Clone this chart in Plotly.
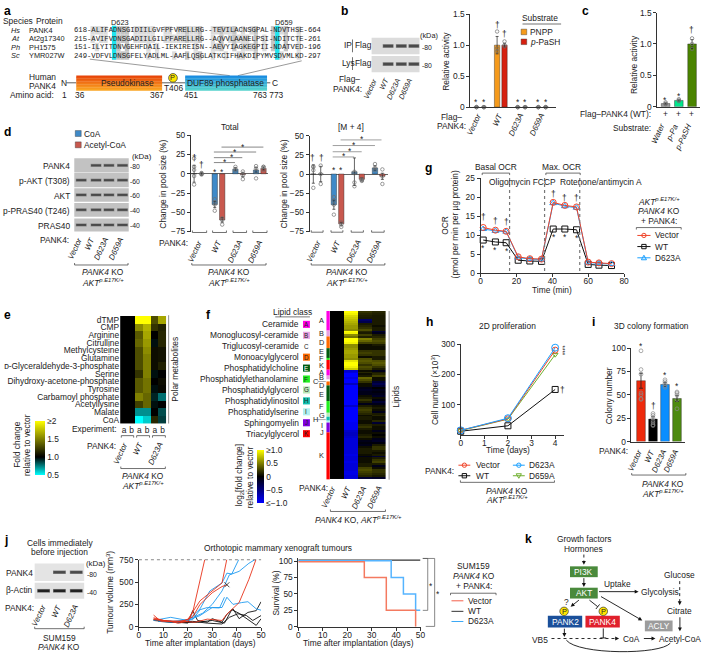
import math
import plotly.graph_objects as go

W, H = 706, 658
FONT = "Liberation Sans"
INK = "#222222"
TEXT_SCALE = 1.05

# ---- data ----
align_rows = [
    "618-ALIFADNSGIDIILGVFPFVRELLRG--TEVILACNSGPAL-NDVTHSE-664",
    "215-AVIFVDNSGADIILGILPFARELLRG--AQVVLAANELPSI-NDITCTE-261",
    "151-ILYITDNVGEHFDAIL-IEKIREISN--AEVYIAGKEGPII-NDATVED-196",
    "249-VDFVLDNSGFELYADLML-AAFLQSGLATKCIFHAKDIPYMVSDVMLKD-297",
]
species = ["Hs", "At", "Ph", "Sc"]
proteins = ["PANK4", "At2g17340", "PH1575", "YMR027W"]

b_groups = ["Vector", "WT", "D623A", "D659A"]
b_pnpp = [0, 1.0, 0, 0]
b_pash = [0, 1.0, 0, 0]
b_pnpp_err = [0, 0.14, 0, 0]
b_pash_err = [0, 0.03, 0, 0]
b_pnpp_dots = [[0, 0, 0], [0.9, 0.95, 1.22], [0, 0, 0], [0, 0, 0]]
b_pash_dots = [[0, 0, 0], [0.98, 1.0, 1.06], [0, 0, 0], [0, 0, 0]]

c_groups = ["Water", "p-Pa", "p-PaSH"]
c_values = [0.05, 0.1, 1.0]
c_err = [0.01, 0.01, 0.07]
c_dots = [[0.04, 0.05, 0.07], [0.09, 0.1, 0.12], [0.92, 1.0, 1.09]]

d_coa = [0, -40, 6, 5]
d_accoa = [0, -60, -1, 7]
d_coa_err = [11, 4, 2, 3]
d_accoa_err = [2, 3, 3, 2]
d_coa_dots = [[20, 9, 5, -3, -14], [-33, -37, -40, -48], [4, 6, 9], [-6, 3, 7, 10]]
d_accoa_dots = [[1, 0, -1], [-58, -60, -66], [3, -2, -7], [5, 9, 9]]

m4_coa = [0, -40, 3, 8]
m4_accoa = [0, -65, -7, -3]
m4_coa_err = [12, 6, 18, 3]
m4_accoa_err = [10, 2, 2, 4]
m4_coa_dots = [[10, 9, 5, -18], [-30, -35, -40, -53], [1, 3, -11, -16], [5, 8, 13]]
m4_accoa_dots = [[11, 0, -13], [-63, -66, -69], [-7, -8, -9], [-3, 6, -13]]

e_metabolites = ["dTMP", "CMP", "Arginine", "Citrulline", "Methylcysteine", "Glutamine",
                 "ᴅ-Glyceraldehyde-3-phosphate", "Serine", "Dihydroxy-acetone-phosphate",
                 "Tyrosine", "Carbamoyl phosphate", "Acetyllysine", "Malate", "CoA"]
e_experiments = ["a", "b", "a", "b", "a", "b"]
e_fold = [
    [1, 1, 2.0, 2.0, 1.3, 1.65],
    [1, 1, 1.55, 1.7, 1.2, 1.13],
    [1, 1, 1.35, 1.65, 1.0, 1.15],
    [1, 1, 1.4, 1.6, 0.97, 1.15],
    [1, 1, 1.3, 1.55, 1.05, 1.07],
    [1, 1, 1.3, 1.5, 1.05, 1.07],
    [1, 1, 1.3, 1.5, 1.05, 1.13],
    [1, 1, 1.2, 1.5, 0.97, 1.0],
    [1, 1, 1.35, 1.45, 1.0, 1.05],
    [1, 1, 1.35, 1.45, 0.97, 1.03],
    [1, 1, 1.5, 1.4, 0.93, 0.78],
    [1, 1, 1.25, 1.4, 0.97, 1.0],
    [1, 1, 0.72, 0.72, 1.0, 0.85],
    [1, 1, 0.5, 0.6, 1.15, 0.88],
]

f_vector = [0, 0, 0, 0, 0, 0, 0, 0, 0, 0, 0, 0, 0, 0, 0, 0, 0, 0, 0, 0, 0, 0, 0, 0, 0, 0, 0, 0, 0, 0,
            0, 0, 0, 0, 0, 0, 0, 0, 0, 0, 0, 0, 0, 0, 0, 0, 0, 0, 0, 0, 0, 0, 0, 0, 0, 0, 0, 0,
            0, 0, 0, 0, 0, 0, 0, 0, 0, 0, 0, 0, 0, 0, 0, 0, 0, 0, 0, 0, 0, 0, 0, 0, 0, 0, 0, 0]
f_wt = [1, .95, .85, .8, .75, .7, .65, .6, .6, .55,
        1, .95, .55, .45, 1, 1, .95, .55, .55, .6,
        .65, .65, .6, .6, .55, .9, 1, 1, .95, .8,
        -.8, -.85, -1, -1, -.9, -1, -1, -.75, -1, -1,
        -1, -1, -1, -1, -1, -1, -1, -1, -.8, -1,
        -1, -1, -1, -1, -1, -1, -1, -.95, -.95, -.95,
        -.95, -.8, -.75, -.75, -.8, -.85, -.85, -.85, -.85, -.85,
        -.85, -.85, -.85, -.9, -.85, -.85, -.85, -.9, -.85, -.85,
        -.85, -.85, -.9, -.9, -.85, -.85]
f_d623a = [.2, .15, .12, .1, -.4, -.3, .1, .15, .2, .3,
           .15, .1, .25, .12, .5, .4, .25, .05, .05, .05,
           .2, .25, .2, .05, .3, .35, .3, .2, .3, .25,
           .05, .15, .05, .1, .4, .3, .2, .05, .05, -.1,
           -.15, -.1, -.1, .05, .1, .2, .1, -.1, .1, .2,
           .25, .2, .15, .05, .1, .1, .05, .05, .15, .2,
           .1, .05, .05, .1, .15, .05, -.1, -.05, -.1, .05,
           .1, .1, .1, .05, -.1, .05, .05, .05, .1, .1,
           .25, .3, .25, .2, .15, -.2]
f_d659a = [.15, .12, .1, .1, .1, .1, .1, .05, .1, .1,
           -.2, -.1, .1, .15, .25, .3, .25, .1, .05, .05,
           .2, .2, .2, .1, .1, .3, .35, .3, .2, .1,
           -.1, .1, .15, .25, .05, .05, -.2, -.3, -.2, 0,
           -.1, -.05, -.1, -.15, .05, -.05, -.2, -.1, .05, .1,
           .05, -.1, .1, .15, .05, .05, .15, -.2, .1, .05,
           .05, -.1, .05, 0, .05, -.1, -.15, -.05, .1, .2,
           .2, .1, .05, .1, -.2, .1, .2, .25, .1, -.1,
           .05, .2, .2, .15, .1, -.15]
lipid_classes = ["Ceramide", "Monoglucosyl-ceramide", "Triglucosyl-ceramide", "Monoacylglycerol",
                 "Phosphatidylcholine", "Phosphatidylethanolamine", "Phosphatidylglycerol",
                 "Phosphatidylinositol", "Phosphatidylserine", "Sphingomyelin", "Triacylglycerol"]
lipid_letters = ["A", "B", "C", "D", "E", "F", "G", "H", "I", "J", "K"]
lipid_colors = ["#ff00e6", "#e8a0e0", "#ffffff", "#ff6a00", "#005a10", "#20f020",
                "#b8e8b8", "#10c0b0", "#b0f0f0", "#8000e0", "#ff0000"]
strip_letters = ["A", "B", "D", "E", "F", "K", "A", "B", "C", "D", "E", "F", "G", "H", "I", "J", "K"]
strip_rows = [10, 3, 6, 5, 1, 5, 3, 2, 1, 2, 8, 6, 2, 2, 1, 5, 24]

g_time = [1.5, 8.3, 14.3, 21, 27.5, 34, 40.5, 47, 53.5, 60, 66, 73]
g_vector = [12, 11.3, 11, 4.3, 3.8, 3.7, 18.6, 17.8, 17.4, 2.9, 2.7, 2.5]
g_wt = [8.7, 8.2, 8, 3.4, 3.2, 3.1, 11.6, 11.6, 11.4, 2.3, 2.1, 2]
g_d623a = [11.6, 11.1, 10.9, 4.1, 3.7, 3.6, 18.4, 17.6, 17.2, 2.8, 2.6, 2.4]

h_days = [0, 2, 4]
h_vector = [15, 53, 280]
h_wt = [12, 30, 150]
h_d623a = [15, 55, 288]
h_d659a = [14, 52, 265]

i_groups = ["Vector", "WT", "D623A", "D659A"]
i_values = [65, 24, 61, 46]
i_err = [8, 3, 2, 3]
i_dots = [[97, 77, 72, 52, 50, 46, 45], [30, 28, 25, 22, 20, 18, 17], [66, 64, 62, 60, 58], [53, 52, 50, 45, 35]]

tumour_red = [
    ([6, 9, 13, 16, 20, 22, 27], [130, 60, 60, 40, 60, 160, 760]),
    ([6, 10, 15, 20, 25, 30, 34, 36], [100, 70, 50, 80, 290, 400, 490, 760]),
    ([6, 12, 18, 22, 25, 30, 34, 36], [90, 60, 60, 110, 250, 380, 450, 470]),
    ([6, 12, 18, 23, 28, 34, 36, 41, 45, 48], [80, 65, 60, 50, 85, 70, 140, 270, 530, 760]),
]
tumour_blue = [
    ([6, 13, 20, 25, 29, 34, 36, 38, 41], [70, 105, 70, 200, 400, 490, 600, 590, 760]),
    ([8, 15, 20, 25, 30, 34, 36, 38.5, 42, 44.6, 48, 50], [60, 50, 70, 125, 215, 215, 330, 250, 270, 280, 200, 185]),
    ([8, 14, 20, 26, 30, 34, 37, 41, 45, 48], [75, 60, 80, 150, 250, 400, 580, 620, 710, 760]),
    ([10, 16, 22, 25, 28, 33, 35], [65, 55, 80, 190, 215, 210, 330]),
]
tumour_black = [
    ([6, 12, 20, 22, 24, 28, 30, 34, 36, 38.5, 41, 44.6, 48, 50], [80, 60, 40, 180, 70, 50, 90, 50, 140, 200, 90, 160, 180, 280]),
    ([6, 14, 22, 28, 34, 37, 40.5, 44, 46.6, 50], [70, 50, 60, 40, 30, 105, 145, 125, 70, 125]),
    ([8, 16, 24, 30, 35, 38, 41, 44, 48, 50], [60, 45, 50, 70, 40, 190, 150, 90, 15, 90]),
]
tumour_x_day = [36]
tumour_x_vol = [470]

surv_wt_x = [0, 50]
surv_wt_y = [101.5, 101.5]
surv_d623a_x = [0, 38, 43, 48, 50]
surv_d623a_y = [100.5, 75, 50, 25, 25]
surv_vector_x = [0, 27, 36, 48]
surv_vector_y = [99, 75, 25, 0]

PALE_BLUE = "#3f8ac8"
PALE_RED = "#c8584e"

# ---- helpers ----
fig = go.Figure()
shapes, notes = [], []


def px(x):
    return x / W


def py(y):
    return 1 - y / H


def T(x, y, s, size=8, anchor="left", angle=0, color=INK, family=FONT, yanchor="middle"):
    notes.append(dict(x=px(x), y=py(y), xref="paper", yref="paper", text=s, showarrow=False,
                      xanchor=anchor, yanchor=yanchor, textangle=angle, borderpad=0,
                      font=dict(size=round(size * TEXT_SCALE, 2), color=color, family=family)))


def R(x, y, s, size=8):
    T(x, y, s, size=size, anchor="right", angle=-65, yanchor="top")


def letter(x, y, s):
    T(x, y, "<b>%s</b>" % s, size=11.5, color="#000000")


def star(x, y):
    T(x, y + 1.5, "*", anchor="center")


def dagger(x, y):
    T(x, y, "†", anchor="center")


def L(x0, y0, x1, y1, color="#333333", w=0.8, dash=None):
    shapes.append(dict(type="line", xref="paper", yref="paper", x0=px(x0), y0=py(y0), x1=px(x1), y1=py(y1),
                       line=dict(color=color, width=w, dash=dash)))


def box(x0, y0, x1, y1, fill, line=None, w=0.6):
    shapes.append(dict(type="rect", xref="paper", yref="paper", x0=px(x0), y0=py(y0), x1=px(x1), y1=py(y1),
                       fillcolor=fill, line=dict(color=line or fill, width=w if line else 0)))


def circ(x, y, r, fill, line="#333333", w=0.7):
    shapes.append(dict(type="circle", xref="paper", yref="paper", x0=px(x - r), y0=py(y - r), x1=px(x + r), y1=py(y + r),
                       fillcolor=fill, line=dict(color=line, width=w)))


def poly(pts, fill, line=None, w=0.8):
    d = "M" + " L".join("%.5f,%.5f" % (px(a), py(b)) for a, b in pts) + " Z"
    shapes.append(dict(type="path", xref="paper", yref="paper", path=d, fillcolor=fill,
                       line=dict(color=line or fill, width=w if line else 0)))


def arrow(x0, y0, x1, y1, dash=None, w=0.9):
    d = math.hypot(x1 - x0, y1 - y0)
    ux, uy = (x1 - x0) / d, (y1 - y0) / d
    L(x0, y0, x1 - ux * 2, y1 - uy * 2, "#111111", w, dash)
    poly([(x1, y1), (x1 - ux * 4 - uy * 2, y1 - uy * 4 + ux * 2), (x1 - ux * 4 + uy * 2, y1 - uy * 4 - ux * 2)], "#111111")


def tee(x0, y0, x1, y1, dash=None):
    d = math.hypot(x1 - x0, y1 - y0)
    ux, uy = (x1 - x0) / d, (y1 - y0) / d
    L(x0, y0, x1, y1, "#111111", 0.9, dash)
    L(x1 - uy * 3, y1 + ux * 3, x1 + uy * 3, y1 - ux * 3, "#111111", 0.9)


def bracket(x0, x1, y, up=True):
    s = -2 if up else 2
    L(x0, y, x1, y, "#333333", 0.7)
    L(x0, y, x0, y + s, "#333333", 0.7)
    L(x1, y, x1, y + s, "#333333", 0.7)


def gradient(x0, y0, x1, y1, top, bottom, n=10):
    for i in range(n):
        c = [int(top[k] + (bottom[k] - top[k]) * i / (n - 1)) for k in range(3)]
        box(x0, y0 + (y1 - y0) * i / n, x1, y0 + (y1 - y0) * (i + 1) / n + 0.3, "rgb(%d,%d,%d)" % tuple(c))


def blot(x0, x1, y0, y1, bands, bw, bg, band="#4a4a4a", bh=2.6):
    box(x0, y0, x1, y1, bg)
    ym = (y0 + y1) / 2
    for c in bands:
        box(c - bw / 2, ym - bh / 2 - 0.6, c + bw / 2, ym + bh / 2 + 0.6, "#8c8c8c")
        box(c - bw / 2 + 0.5, ym - bh / 2, c + bw / 2 - 0.5, ym + bh / 2, band)


def make_axes(n, x0, x1, ytop, ybot, xr, yr, xkw=None, ykw=None):
    base = dict(showgrid=False, zeroline=False, showline=True, linecolor="#333333", linewidth=0.8,
                ticks="outside", ticklen=3, tickwidth=0.8, tickcolor="#333333",
                tickfont=dict(size=8.4, color=INK, family=FONT))
    xa = dict(base, domain=[px(x0), px(x1)], anchor="y%d" % n, range=xr, ticklabelstandoff=-3)
    ya = dict(base, domain=[py(ybot), py(ytop)], anchor="x%d" % n, range=yr)
    xa.update(xkw or {})
    ya.update(ykw or {})
    fig.update_layout(**{"xaxis%d" % n: xa, "yaxis%d" % n: ya})
    return dict(xaxis="x%d" % n, yaxis="y%d" % n)


NOX = dict(visible=False)


def bars(ax, xs, ys, color, width, err=None, dots=None):
    e = dict(type="data", array=err, color="#222222", thickness=0.7, width=1.5) if err else None
    fig.add_trace(go.Bar(x=xs, y=ys, width=width, marker=dict(color=color, line=dict(color="#222222", width=0.4)),
                         error_y=e, cliponaxis=False, **ax))
    if dots:
        dx = [x for x, g in zip(xs, dots) for _ in g]
        dy = [v for g in dots for v in g]
        fig.add_trace(go.Scatter(x=dx, y=dy, mode="markers", cliponaxis=False,
                                 marker=dict(symbol="circle-open", size=3.5, color="#707070", line=dict(width=0.7)), **ax))


def lines(ax, xs, ys, color, symbol=None, size=6, w=1.0, shape="linear", clip=False):
    mode = "lines+markers" if symbol else "lines"
    m = dict(symbol=symbol, size=size, color=color, line=dict(width=1, color=color)) if symbol else None
    fig.add_trace(go.Scatter(x=xs, y=ys, mode=mode, line=dict(color=color, width=w, shape=shape),
                             marker=m, cliponaxis=clip, **ax))


def legend_mark(x0, x1, y, color, kind):
    L(x0, y, x1, y, color, 1)
    xm = (x0 + x1) / 2
    if kind == "o":
        circ(xm, y, 2.2, "rgba(0,0,0,0)", color, 1)
    elif kind == "s":
        box(xm - 2.2, y - 2.2, xm + 2.2, y + 2.2, "rgba(0,0,0,0)", color, 1)
    elif kind == "^":
        poly([(xm, y - 2.6), (xm - 2.6, y + 2), (xm + 2.6, y + 2)], "rgba(0,0,0,0)", color, 1)
    elif kind == "v":
        poly([(xm, y + 2.6), (xm - 2.6, y - 2), (xm + 2.6, y - 2)], "rgba(0,0,0,0)", color, 1)


AKT_KI = "<i>AKT</i><sup><i>p.E17K/+</i></sup>"
KO = "<i>PANK4</i> KO"

# ---- a: alignment and domain map ----
letter(1, 6, "a")
T(0, 16, "Species", 8)
T(33, 16, "Protein", 8)
T(119, 17.7, "D623", 7, "center")
T(285, 17.7, "D659", 7, "center")
ROW_Y = [25.7, 34.3, 42.7, 51.3]
CH = 4.338
for col in range(4, 53):
    chars = [r[col] for r in align_rows]
    top = max(chars.count(c) for c in set(chars) if c != "-") if set(chars) != {"-"} else 0
    for r, ch in enumerate(chars):
        if ch != "-" and chars.count(ch) >= 2 and top >= 2:
            box(72 + col * CH, ROW_Y[r] - 4.3, 72 + (col + 1) * CH, ROW_Y[r] + 4.3, "#c4c4c4" if chars.count(ch) >= 3 else "#dcdcdc")
for col in (9, 47):
    box(72 + col * CH, 21, 72 + (col + 1) * CH, 55.5, "#1fe6f0")
for y, sp, pr, seq in zip(ROW_Y, species, proteins, align_rows):
    T(8, y, "<i>%s</i>" % sp, 7)
    T(26.7, y, pr, 7)
    T(72, y, seq, 7.23 / TEXT_SCALE, family="Liberation Mono")
L(88.7, 55, 230, 71.7, "#555555", 0.6)
L(302.7, 56.7, 238.3, 71.7, "#555555", 0.6)
T(40.7, 73.3, "Human", 8, "center")
T(40.7, 82.3, "PANK4", 8, "center")
T(58.5, 79, "N", 8)
L(65, 79, 75, 79, "#333333", 0.8)
L(161, 79, 185, 79, "#333333", 0.8)
L(267, 79, 271, 79, "#333333", 0.8)
gradient(75, 71.7, 161.7, 86.7, (232, 70, 10), (250, 165, 35))
gradient(185, 71.7, 267.7, 86.7, (25, 140, 225), (85, 210, 205))
T(126.7, 79, "Pseudokinase", 8, "center")
T(226, 79, "DUF89 phosphatase", 8, "center")
T(271.5, 79, "C", 8)
circ(172.7, 74, 4.4, "#ffe600")
T(172.7, 74, "P", 7, "center")
T(173, 84, "T406", 8, "center")
T(53.3, 91.3, "Amino acid:", 8, "right")
T(63, 91.3, "1", 8, "center")
T(79, 91.3, "36", 8, "center")
T(156.7, 91.3, "367", 8, "center")
T(191, 91.3, "451", 8, "center")
T(269.3, 91.3, "763 773", 8, "center")

# ---- b ----
letter(341, 6, "b")
blot(373.3, 421.7, 33.3, 50, [390, 403.3, 416], 11, "#dcdcdc")
blot(373.3, 421.7, 51.7, 68.3, [390, 403.3, 416], 11, "#dcdcdc")
T(431.7, 31, "(kDa)", 7, "center")
T(423, 43.3, "-80", 6.5)
T(423, 61, "-80", 6.5)
T(344, 41, "IP", 8)
T(342, 59, "Lys", 8)
L(354, 35, 354, 48, "#333333", 0.7)
L(354, 53, 354, 66, "#333333", 0.7)
T(356, 41, "Flag", 8)
T(356, 59, "Flag", 8)
T(363, 75.3, "Flag–", 8, "right")
T(365, 85.3, "PANK4:", 8, "right")
for x, g in zip([382, 394, 406, 418], b_groups):
    R(x, 71, "<i>%s</i>" % g, 7)
ax = make_axes(2, 473, 560, 9.3, 103.7, [-0.48, 3.7], [0, 1.5],
               xkw=dict(ticks="", showticklabels=False),
               ykw=dict(tickvals=[0, 0.5, 1, 1.5], ticktext=["0", "0.5", "1.0", "1.5"]))
xs_b = list(range(4))
bars(ax, [x - 0.18 for x in xs_b], b_pnpp, "#f59a1b", 0.26, b_pnpp_err, b_pnpp_dots)
bars(ax, [x + 0.18 for x in xs_b], b_pash, "#d62010", 0.26, b_pash_err, b_pash_dots)
T(448.3, 56.7, "Relative activity", 8, "center", -90)
for x in [479, 486.7, 521, 528, 541.7, 549]:
    star(x, 97)
dagger(500, 20)
dagger(507.3, 29)
T(543, 13.3, "Substrate", 8, "center")
L(525.7, 19.3, 564.7, 19.3, "#333333", 0.7)
box(524.3, 24.5, 530, 30.2, "#f59a1b", "#333333", 0.4)
box(524.3, 34.5, 530, 40.2, "#d62010", "#333333", 0.4)
T(532.7, 27.3, "PNPP", 8)
T(532.7, 37.3, "<i>p</i>-PaSH", 8)
T(466, 113.3, "Flag–", 8, "right")
T(470, 123.3, "PANK4:", 8, "right")
for x, g in zip([487, 509, 530, 551], b_groups):
    R(x, 107, "<i>%s</i>" % g, 7.5)

# ---- c ----
letter(585, 6, "c")
ax = make_axes(3, 661.7, 705, 7.7, 103.3, [-0.64, 2.6], [0, 1.5],
               xkw=dict(ticks="", showticklabels=False),
               ykw=dict(tickvals=[0, 0.5, 1, 1.5], ticktext=["0", "0.5", "1.0", "1.5"]))
fig.add_trace(go.Bar(x=[0, 1, 2], y=c_values, width=0.65, cliponaxis=False,
                     marker=dict(color=["#9a9a9a", "#00e68c", "#4a8400"], line=dict(color="#222222", width=0.4)),
                     error_y=dict(type="data", array=c_err, color="#222222", thickness=0.7, width=1.5), **ax))
fig.add_trace(go.Scatter(x=[0, 0, 0, 1, 1, 1, 2, 2, 2], y=[v for g in c_dots for v in g], mode="markers", cliponaxis=False,
                         marker=dict(symbol="circle-open", size=3.5, color="#707070", line=dict(width=0.7)), **ax))
T(638.3, 60, "Relative activity", 8, "center", -90)
star(670, 95)
star(683.3, 90.7)
dagger(696.7, 25)
T(656.7, 111, "Flag–PANK4 (WT):", 8, "right")
T(656.7, 125, "Substrate:", 8, "right")
for x, g in zip([670, 683.3, 696.7], c_groups):
    T(x, 111, "+", 8, "center")
    R(x + 3, 118, "<i>%s</i>" % g, 7.5)

# ---- d ----
letter(1, 129, "d")
box(74, 127.5, 80, 133.5, PALE_BLUE, "#333333", 0.4)
box(74, 139, 80, 145, PALE_RED, "#333333", 0.4)
T(81.7, 130.7, "CoA", 8)
T(81.7, 142.3, "Acetyl-CoA", 8)
T(141.7, 154, "(kDa)", 7.5, "center")
D_ROWS = [(155.7, 170, [95, 108, 121.7], "PANK4", "-80"),
          (170.7, 185, [80, 95, 108, 121.7], "p-AKT (T308)", "-60"),
          (186, 199.7, [80, 95, 108, 121.7], "AKT", "-60"),
          (201, 215, [80, 95, 108, 121.7], "p-PRAS40 (T246)", "-40"),
          (216.7, 230, [80, 95, 108, 121.7], "PRAS40", "-40")]
for y0, y1, bands, name, kda in D_ROWS:
    blot(73, 128, y0, y1, bands, 11, "#c2c2c2", bh=2)
    T(69.3, (y0 + y1) / 2 + 1, name, 8, "right")
    T(128.5, (y0 + y1) / 2 + 1, kda, 6.5)
T(69, 239, "PANK4:", 8, "right")
for x, g in zip([84, 97, 111, 126], b_groups):
    R(x, 233, "<i>%s</i>" % g, 7.5)
bracket(73.3, 127.3, 264)
T(101.7, 271.5, KO, 8, "center")
T(101.7, 281.5, AKT_KI, 8, "center")

T(230, 124.3, "Total", 8, "center")
yk = dict(tickvals=[-75, -50, -25, 0, 25, 50], zeroline=True, zerolinecolor="#666666", zerolinewidth=1.2)
ax = make_axes(4, 190.7, 268.7, 132.3, 230, [-0.34, 3.4], [-75, 50], xkw=NOX, ykw=yk)
bars(ax, [x - 0.18 for x in xs_b], d_coa, PALE_BLUE, 0.26, d_coa_err, d_coa_dots)
bars(ax, [x + 0.18 for x in xs_b], d_accoa, PALE_RED, 0.26, d_accoa_err, d_accoa_dots)
T(162.3, 181.7, "Change in pool size (%)", 8, "center", -90)
dagger(194.3, 155.7)
dagger(201.3, 162.7)
star(215, 167.7)
star(222.3, 167.7)
for y, x0, x1, xs in [(144.3, 221.7, 264, 243), (149.3, 214, 256.7, 235.5), (155, 214, 242.7, 232), (160, 214, 235.3, 225)]:
    L(x0, y, x1, y, "#555555", 0.7)
    star(xs, y - 2)
for a_, b_ in [(192.3, 206.7), (212.7, 226.7), (233.3, 247), (253.3, 267.7)]:
    bracket(a_, b_, 231)
T(189.3, 241.7, "PANK4:", 8, "right")
for x, g in zip([205, 225, 246, 266.5], b_groups):
    R(x, 236, "<i>%s</i>" % g, 7.5)
bracket(191.7, 266.7, 264)
T(229, 271.5, KO, 8, "center")
T(229, 281.5, AKT_KI, 8, "center")

T(352, 124.3, "[M + 4]", 8, "center")
ax = make_axes(5, 310.7, 390, 132.7, 230, [-0.36, 3.46], [-75, 50], xkw=NOX, ykw=yk)
bars(ax, [x - 0.18 for x in xs_b], m4_coa, PALE_BLUE, 0.26, m4_coa_err, m4_coa_dots)
bars(ax, [x + 0.18 for x in xs_b], m4_accoa, PALE_RED, 0.26, m4_accoa_err, m4_accoa_dots)
T(284.3, 181.7, "Change in pool size (%)", 8, "center", -90)
dagger(314, 155)
dagger(322.3, 155)
star(335, 166)
star(342.7, 166)
for y, x0, x1, xs in [(137, 342, 383.3, 363.3), (142.7, 334, 376.7, 355.7), (149, 334, 363.3, 351.7), (154.3, 334, 355.7, 345)]:
    L(x0, y, x1, y, "#777777", 0.7)
    star(xs, y - 2)
for a_, b_ in [(312.3, 324.3), (332.3, 344.3), (352.7, 365), (373.3, 386)]:
    bracket(a_, b_, 230.7)
for x, g in zip([325, 345.5, 366, 386.5], b_groups):
    R(x, 236, "<i>%s</i>" % g, 7.5)
bracket(312.3, 386.7, 264)
T(348.3, 271.5, KO, 8, "center")
T(348.3, 281.5, AKT_KI, 8, "center")

# ---- e ----
letter(1, 315, "e")
ax = make_axes(6, 119.3, 166, 315.7, 425, [-0.5, 5.5], [13.5, -0.5],
               xkw=dict(tickvals=list(range(6)), ticktext=e_experiments, ticks="", showline=False, ticklabelstandoff=0),
               ykw=dict(tickvals=list(range(14)), ticktext=e_metabolites, ticks="", showline=False))
fig.add_trace(go.Heatmap(z=e_fold, x=list(range(6)), y=list(range(14)), zmin=0.5, zmax=2,
                         colorscale=[[0, "#00ffff"], [1 / 3, "#000000"], [1, "#ffff00"]],
                         colorbar=dict(x=px(33), xanchor="left", xpad=0, y=py(422), yanchor="top", ypad=0,
                                       lenmode="pixels", len=54, thicknessmode="pixels", thickness=9.5,
                                       outlinewidth=0, tickvals=[0.5, 1, 1.5, 2], ticktext=["0.5", "1.0", "1.5", "≥2"],
                                       ticks="", tickfont=dict(size=8.4, color=INK, family=FONT)), **ax))
L(168.3, 315, 168.3, 425, "#777777", 0.8)
T(175, 370, "Polar metabolites", 8, "center", -90)
T(116.7, 431, "Experiment:", 8, "right")
bracket(120.5, 133, 437.3, up=False)
bracket(136, 149, 437.3, up=False)
bracket(152, 165, 437.3, up=False)
T(116, 447.7, "PANK4:", 8, "right")
for x, g in zip([130, 146, 166], ["Vector", "WT", "D623A"]):
    R(x, 441.5, "<i>%s</i>" % g, 7.5)
bracket(120, 165, 470.7)
T(142.7, 478, KO, 8, "center")
T(142.7, 487.5, AKT_KI, 8, "center")
T(15.7, 447, "Fold change", 8, "center", -90)
T(25, 447, "relative to vector", 8, "center", -90)

# ---- f ----
letter(205, 315, "f")
T(293.3, 312, "Lipid class", 8, "center")
L(276, 316.7, 311, 316.7, "#555555", 0.8)
for i, (name, let, col) in enumerate(zip(lipid_classes, lipid_letters, lipid_colors)):
    y = 324.3 + i * 11.1
    T(301, y, name, 8, "right")
    box(304, y - 3.6, 311, y + 3.6, col)
    T(307.5, y, let, 6, "center", color="#ffffff" if let == "E" else INK)
rows_f = list(range(86))
ax = make_axes(7, 331, 387.7, 310.7, 481.7, [-0.5, 3.5], [85.5, -0.5], xkw=NOX, ykw=NOX)
fig.add_trace(go.Heatmap(z=[list(r) for r in zip(f_vector, f_wt, f_d623a, f_d659a)], x=[0, 1, 2, 3], y=rows_f, zmin=-1, zmax=1,
                         colorscale=[[0, "#0000ff"], [0.5, "#000000"], [1, "#ffff00"]],
                         colorbar=dict(x=px(257.3), xanchor="left", xpad=0, y=py(452), yanchor="top", ypad=0,
                                       lenmode="pixels", len=52.5, thicknessmode="pixels", thickness=7,
                                       outlinewidth=0, tickvals=[-1, -0.5, 0, 0.5, 1], ticktext=["≤−1.0", "−0.5", "0", "0.5", "≥1.0"],
                                       ticks="", tickfont=dict(size=8.4, color=INK, family=FONT)), **ax))
color_of = dict(zip(lipid_letters, lipid_colors))
row = 0
for let, n in zip(strip_letters, strip_rows):
    box(327.7, 310.7 + row * 1.988, 331, 310.7 + (row + n) * 1.988, color_of[let])
    row += n
for x, y, s in [(322.7, 320.7, "A"), (322.7, 333.7, "B"), (322.7, 342.7, "D"), (322.7, 351.7, "E"), (322.7, 359, "F"),
                (322.7, 366, "K"), (322.7, 372.7, "A"), (322.7, 378.3, "B"), (316.7, 382.3, "C"), (322.7, 386.7, "D"),
                (322.7, 395.7, "E"), (322.7, 407.7, "F"), (322.7, 416.7, "G"), (316.7, 421, "H"), (322.7, 426.7, "I"),
                (322.7, 434.3, "J"), (322.7, 457.7, "K")]:
    T(x, y, s, 7, "center")
L(319, 382.3, 327, 382.3, "#555555", 0.5)
L(319, 421, 327, 421, "#555555", 0.5)
L(391, 310.7, 391, 482, "#777777", 0.8)
T(397.7, 398, "Lipids", 8, "center", -90)
T(330, 490.7, "PANK4:", 8, "right")
for x, g in zip([340, 356, 371.5, 387], ["Vector", "WT", "D623A", "D659A"]):
    R(x, 486, "<i>%s</i>" % g, 7.5)
bracket(331.7, 387.3, 514.3)
T(360, 522.3, "<i>PANK4</i> KO, " + AKT_KI, 8, "center")
T(240, 478, "log<sub>2</sub>[fold change]", 8, "center", -90)
T(250, 480, "relative to vector", 8, "center", -90)

# ---- g ----
letter(426, 166, "g")
ax = make_axes(8, 483.3, 628.3, 175.7, 272.3, [0, 80], [0, 25],
               xkw=dict(tickvals=[0, 20, 40, 60, 80]), ykw=dict(tickvals=[0, 5, 10, 15, 20, 25]))
for xv in (16.2, 35.7, 55.3):
    xp = 483.3 + xv * 145 / 80
    L(xp, 175.7, xp, 272.3, "#777777", 1.2, "dot")
lines(ax, g_time, g_wt, "#111111", "square-open", 6)
lines(ax, g_time, g_d623a, "#1aa0ff", "triangle-up-open", 6)
lines(ax, g_time, g_vector, "#f0452a", "circle-open", 6)
T(446.7, 224, "OCR", 8, "center", -90)
T(457.3, 223, "(pmol per min per µg protein)", 8, "center", -90)
T(556, 289.3, "Time (min)", 8, "center")
T(499, 165, "Basal OCR", 8, "center")
bracket(485, 512.7, 170.7, up=False)
T(564.7, 165, "Max. OCR", 8, "center")
bracket(549.3, 584, 170.7, up=False)
T(525.5, 179.3, "Oligomycin FCCP", 8, "center")
T(605.5, 179.3, "Rotenone/antimycin A", 8, "center")
for zx, zy in [(198, 167), (234, 178), (269, 180), (410, 95), (445, 107), (480, 107)]:
    dagger(420 + zx / 3, 160 + zy / 3)
for zx, zy in [(198, 255), (234, 262), (269, 265), (412, 222), (447, 222), (482, 225)]:
    star(420 + zx / 3, 160 + zy / 3)
T(663.3, 200, AKT_KI, 8, "center")
T(663.3, 209.3, KO, 8, "center")
T(663.3, 219.3, "+ PANK4:", 8, "center")
bracket(640.7, 686, 226, up=False)
legend_mark(641.7, 655, 234, "#f0452a", "o")
legend_mark(641.7, 655, 245.3, "#111111", "s")
legend_mark(641.7, 655, 256.7, "#1aa0ff", "^")
T(658.3, 234, "Vector", 8)
T(658.3, 245.3, "WT", 8)
T(658.3, 256.7, "D623A", 8)

# ---- h ----
letter(427, 322, "h")
T(511, 325.7, "2D proliferation", 8, "center")
ax = make_axes(9, 463.3, 568, 344.3, 436.5, [0, 4.39], [0, 300],
               xkw=dict(tickvals=[0, 1, 2, 3, 4]), ykw=dict(tickvals=[100, 200, 300]))
lines(ax, h_days, h_wt, "#111111", "square-open", 6)
lines(ax, h_days, h_d659a, "#70b030", "triangle-down-open", 5)
lines(ax, h_days, h_vector, "#f0452a", "circle-open", 6)
lines(ax, h_days, h_d623a, "#1aa0ff", "circle-open", 7)
T(437.3, 390, "Cell number (×10<sup>3</sup>)", 8, "center", -90)
T(511, 452.3, "Time (days)", 8, "center")
T(565.8, 351, "****", 6, "center", 90)
T(562.5, 390.5, "†", 8)
T(458, 472.7, "PANK4:", 8, "right")
legend_mark(461, 473, 467.3, "#f0452a", "o")
legend_mark(461, 473, 478, "#111111", "s")
legend_mark(516, 528, 467.3, "#1aa0ff", "o")
legend_mark(516, 528, 478, "#70b030", "v")
T(477.7, 467.3, "Vector", 8)
T(477.7, 478, "WT", 8)
T(531.7, 467.3, "D623A", 8)
T(531.7, 478, "D659A", 8)
bracket(463, 558, 484.7)
T(510, 493, KO, 8, "center")
T(510, 502.5, AKT_KI, 8, "center")

# ---- i ----
letter(595, 322, "i")
T(655.7, 325.7, "3D colony formation", 8, "center")
ax = make_axes(10, 635.7, 690, 348.3, 443.3, [-0.8, 3.68], [0, 100],
               xkw=dict(ticks="", showticklabels=False), ykw=dict(tickvals=[0, 25, 50, 75, 100]))
fig.add_trace(go.Bar(x=[0, 1, 2, 3], y=i_values, width=0.72, cliponaxis=False,
                     marker=dict(color=["#ee2a0c", "#000000", "#0a8eff", "#4d8a10"], line=dict(color="#222222", width=0.4)),
                     error_y=dict(type="data", array=i_err, color="#222222", thickness=0.8, width=2), **ax))
fig.add_trace(go.Scatter(x=[k for k, g in enumerate(i_dots) for _ in g], y=[v for g in i_dots for v in g], mode="markers",
                         cliponaxis=False, marker=dict(symbol="circle-open", size=3.8, color="#8a8a8a", line=dict(width=0.7)), **ax))
T(612.7, 396.7, "Colony number", 8, "center", -90)
star(645.3, 345)
dagger(657.7, 406.7)
star(669.7, 374)
star(681.7, 385)
T(633, 453, "PANK4:", 8, "right")
for x, g in zip([650, 662, 674, 686], i_groups):
    R(x, 449, "<i>%s</i>" % g, 7.5)
bracket(636, 690.7, 477.3)
T(667.3, 486.7, KO, 8, "center")
T(667.3, 496.2, AKT_KI, 8, "center")

# ---- j ----
letter(1, 543, "j")
T(58.3, 546, "Cells immediately", 8, "center")
T(58.3, 555.7, "before injection", 8, "center")
T(95, 567, "(kDa)", 7.5, "center")
blot(33, 83, 567, 585, [58, 75], 13, "#e4e4e4", bh=2.4)
blot(33, 83, 586.7, 603, [42, 58, 75], 13, "#e0e0e0", "#222222", bh=2.6)
T(2.7, 576.7, "PANK4", 8)
T(3, 594, "β-Actin", 8)
T(85, 578, "-80", 6.5)
T(85, 596.7, "-40", 6.5)
T(2, 612.7, "PANK4:", 8)
for x, g in zip([48, 63, 80], ["Vector", "WT", "D623A"]):
    R(x, 606.5, "<i>%s</i>" % g, 7.5)
bracket(33, 83, 633.3)
T(58, 642.3, "SUM159", 8, "center")
T(58, 652.3, KO, 8, "center")
T(279, 551, "Orthotopic mammary xenograft tumours", 8, "center")
ax = make_axes(11, 138.3, 261.7, 563.3, 631.3, [0, 50], [0, 750],
               xkw=dict(tickvals=[0, 10, 20, 30, 40, 50]), ykw=dict(tickvals=[0, 250, 500, 750]))
for xs, ys in tumour_black:
    lines(ax, xs, ys, "#111111", w=0.9, clip=True)
for xs, ys in tumour_blue:
    lines(ax, xs, ys, "#1f9bf0", w=0.9, clip=True)
for xs, ys in tumour_red:
    lines(ax, xs, ys, "#e8321a", w=0.9, clip=True)
fig.add_trace(go.Scatter(x=tumour_x_day, y=tumour_x_vol, mode="markers",
                         marker=dict(symbol="x-thin-open", size=5, color="#222222", line=dict(width=0.8)), **ax))
L(138.3, 563.3, 261.7, 563.3, "#555555", 0.7, "dot")
T(110, 596, "Tumour volume (mm<sup>3</sup>)", 8, "center", -90)
T(200.7, 648.3, "Time after implantation (days)", 8, "center")
ax = make_axes(12, 299.3, 422.7, 562, 631.3, [0, 50], [0, 104],
               xkw=dict(tickvals=[0, 10, 20, 30, 40, 50]), ykw=dict(tickvals=[0, 25, 50, 75, 100]))
lines(ax, surv_wt_x, surv_wt_y, "#333333", w=1.2, shape="hv")
lines(ax, surv_d623a_x, surv_d623a_y, "#55b4ff", w=1.5, shape="hv")
lines(ax, surv_vector_x, surv_vector_y, "#f47a60", w=1.5, shape="hv")
T(276.7, 596.7, "Survival (%)", 8, "center", -90)
T(360, 648.3, "Time after implantation (days)", 8, "center")
L(425, 562, 430, 562, "#555555", 0.7)
L(430, 562, 430, 614.7, "#555555", 0.7)
L(425, 614.7, 430, 614.7, "#555555", 0.7)
L(425, 562, 437, 562, "#555555", 0.7)
L(437, 562, 437, 631, "#555555", 0.7)
L(428, 631, 437, 631, "#555555", 0.7)
star(433, 588)
star(440.7, 597)
T(476.7, 570, "SUM159", 8, "center")
T(476.7, 580, KO, 8, "center")
T(476.7, 590, "+ PANK4:", 8, "center")
bracket(453, 499, 597.3, up=False)
for y, c, s in [(605, "#f4604a", "Vector"), (615.7, "#333333", "WT"), (626, "#3ba8f5", "D623A")]:
    L(454, y, 466, y, c, 1)
    T(469.3, y, s, 8)

# ---- k ----
letter(527, 542, "k")
T(587.7, 542.3, "Growth factors", 8, "center")
T(587.7, 552.3, "Hormones", 8, "center")
arrow(587.7, 558, 587.7, 568.5, "dot")
for x0, y0, x1, y1, c, s in [(573.7, 570, 601.7, 581, "#4a8a3c", "PI3K"), (573.7, 591.7, 601.7, 602.7, "#4a8a3c", "AKT"),
                             (551.3, 620.3, 586, 632, "#1a4f9a", "PANK2"), (589.3, 620.3, 624, 632, "#e0202c", "PANK4"),
                             (649.3, 625, 677.3, 636, "#9c9c9c", "ACLY")]:
    box(x0, y0, x1, y1, c)
    T((x0 + x1) / 2, (y0 + y1) / 2, s, 8, "center", color="#ffffff")
arrow(587.7, 582, 587.7, 591)
T(622, 588.3, "Uptake", 8, "center")
arrow(603, 595.7, 643, 595.7)
T(644.7, 595.7, "Glycolysis", 8)
T(684, 579, "Glucose", 8, "center")
arrow(684.5, 585, 684.5, 609.5, "dot")
T(684.7, 615.7, "Citrate", 8, "center")
arrow(684.7, 621.7, 684.7, 636)
arrow(605, 600.7, 646.7, 625)
arrow(582.7, 604.3, 574.3, 611)
tee(593.3, 604.3, 601.7, 611)
T(570, 606, "?", 8, "center")
circ(567.7, 615.7, 4.3, "#ffe600")
T(567.7, 615.7, "P", 7, "center")
circ(607.3, 615.7, 4.3, "#ffe600")
T(607.3, 615.7, "P", 7, "center")
T(543.3, 644.7, "VB5", 8, "center")
arrow(555, 643.3, 623.3, 643.3, "dot")
T(636, 643.5, "CoA", 8, "center")
arrow(648.3, 643.3, 660, 643.3)
T(684.3, 643.5, "Acetyl-CoA", 8, "center")
arrow(568, 633.3, 568, 641.7)
tee(607.3, 633, 607.3, 642.7)
shapes.append(dict(type="path", xref="paper", yref="paper", line=dict(color="#111111", width=0.9),
                   path="M%.5f,%.5f C%.5f,%.5f %.5f,%.5f %.5f,%.5f" % (px(570), py(645), px(582), py(660), px(665), py(660), px(675), py(648))))

fig.update_layout(width=W, height=H, margin=dict(l=0, r=0, t=0, b=0), autosize=False,
                  paper_bgcolor="white", plot_bgcolor="rgba(0,0,0,0)", showlegend=False,
                  barmode="overlay", font=dict(family=FONT, size=8, color=INK),
                  shapes=shapes, annotations=notes)
fig.write_html("out.html", post_script="document.body.style.margin='0';", config=dict(displayModeBar=False))
